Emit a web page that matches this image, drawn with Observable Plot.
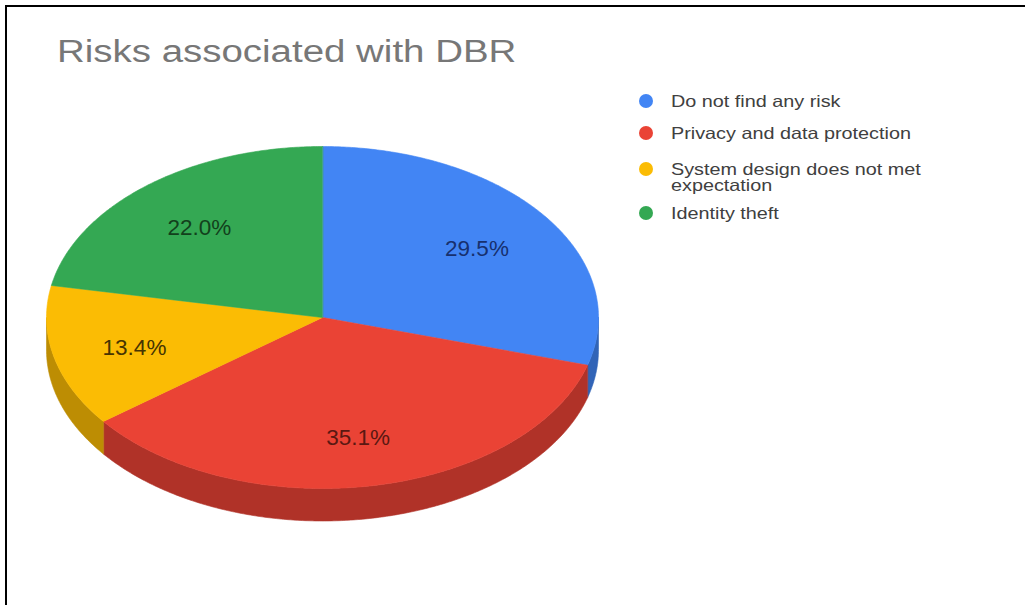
<!DOCTYPE html>
<html>
<head>
<meta charset="utf-8">
<script src="https://cdn.jsdelivr.net/npm/d3@7"></script>
<script src="https://cdn.jsdelivr.net/npm/@observablehq/plot@0.6"></script>
<style>
  html, body { margin: 0; padding: 0; background: #fff; }
  #wrap { position: relative; width: 1025px; height: 605px; overflow: hidden; font-family: "Liberation Sans", Arial, sans-serif; }
  #border-top { position: absolute; left: 5px; top: 5px; width: 1020px; height: 2px; background: #000; }
  #border-left { position: absolute; left: 5px; top: 5px; width: 2px; height: 600px; background: #000; }
  #title { position: absolute; left: 57px; top: 34px; font-size: 31px; color: #777; white-space: nowrap; transform: scaleX(1.24); transform-origin: left top; }
  #chart { position: absolute; left: 0; top: 0; }
  #legend { position: absolute; left: 639px; top: 92.75px; }
  .item { position: relative; height: auto; }
  .dot { position: absolute; left: 0; width: 14px; height: 14px; border-radius: 50%; top: 1.25px; }
  .txt { margin-left: 32px; font-size: 16.5px; line-height: 16.5px; color: #404040; white-space: nowrap; transform: scaleX(1.2); transform-origin: left top; }
</style>
</head>
<body>
<div id="wrap">
  <div id="chart"></div>
  <div id="border-top"></div>
  <div id="border-left"></div>
  <div id="title"></div>
  <div id="legend"></div>
</div>
<script>
// ---- data ----
const title = "Risks associated with DBR";
const categories = ["Do not find any risk", "Privacy and data protection", "System design does not met expectation", "Identity theft"];
const legendLines = [["Do not find any risk"], ["Privacy and data protection"], ["System design does not met", "expectation"], ["Identity theft"]];
const values = [29.5, 35.1, 13.4, 22.0];
const topColors = ["#4285f4", "#ea4335", "#fbbc04", "#34a853"];
const sideColors = ["#3164b7", "#b03228", "#bd8d03", "#277e3e"];
const labelColors = ["#17306e", "#5a1812", "#463402", "#12401c"];
const legendGaps = [0, 15.5, 19.5, 11];

// ---- geometry (unit ellipse, mapped by scales) ----
const depth = 0.19;
const labelR = 0.7;
const arcs = d3.pie().sort(null).value(d => d)(values);
const step = Math.PI / 360;

function arcPoints(a0, a1) {
  const pts = [];
  const n = Math.max(2, Math.ceil((a1 - a0) / step));
  for (let i = 0; i <= n; i++) {
    const a = a0 + (a1 - a0) * i / n;
    pts.push({x: Math.sin(a), y: Math.cos(a)});
  }
  return pts;
}

const marks = [];
// sides (visible between 90° and 270°)
arcs.forEach((arc, i) => {
  const a0 = Math.max(arc.startAngle, Math.PI / 2);
  const a1 = Math.min(arc.endAngle, 3 * Math.PI / 2);
  if (a1 <= a0) return;
  const topArc = arcPoints(a0, a1);
  const bottomArc = topArc.map(p => ({x: p.x, y: p.y - depth})).reverse();
  const poly = topArc.concat(bottomArc);
  marks.push(Plot.line(poly, {x: "x", y: "y", fill: sideColors[i], stroke: sideColors[i], strokeWidth: 0.6, curve: "linear-closed"}));
});
// top faces
arcs.forEach((arc, i) => {
  const poly = [{x: 0, y: 0}].concat(arcPoints(arc.startAngle, arc.endAngle));
  marks.push(Plot.line(poly, {x: "x", y: "y", fill: topColors[i], stroke: topColors[i], strokeWidth: 0.6, curve: "linear-closed"}));
});
// labels
const labelData = arcs.map((arc, i) => {
  const m = (arc.startAngle + arc.endAngle) / 2;
  return {x: labelR * Math.sin(m), y: labelR * Math.cos(m), text: values[i].toFixed(1) + "%", color: labelColors[i]};
});
marks.push(Plot.text(labelData, {x: "x", y: "y", dy: 3, text: "text", fill: d => d.color, fontSize: 22.5, fontFamily: "Liberation Sans, Arial, sans-serif"}));

const svg = Plot.plot({
  width: 1025,
  height: 605,
  margin: 0,
  x: {domain: [-1, 1], range: [46, 598], axis: null},
  y: {domain: [-1, 1], range: [488, 146], axis: null},
  color: {type: "identity"},
  marks
});
document.getElementById("chart").appendChild(svg);

document.getElementById("title").textContent = title;

const legend = document.getElementById("legend");
categories.forEach((c, i) => {
  const item = document.createElement("div");
  item.className = "item";
  item.style.marginTop = legendGaps[i] + "px";
  item.title = c;
  const dot = document.createElement("div");
  dot.className = "dot";
  dot.style.background = topColors[i];
  item.appendChild(dot);
  const txt = document.createElement("div");
  txt.className = "txt";
  legendLines[i].forEach(line => {
    const l = document.createElement("div");
    l.textContent = line;
    txt.appendChild(l);
  });
  item.appendChild(txt);
  legend.appendChild(item);
});
</script>
</body>
</html>
